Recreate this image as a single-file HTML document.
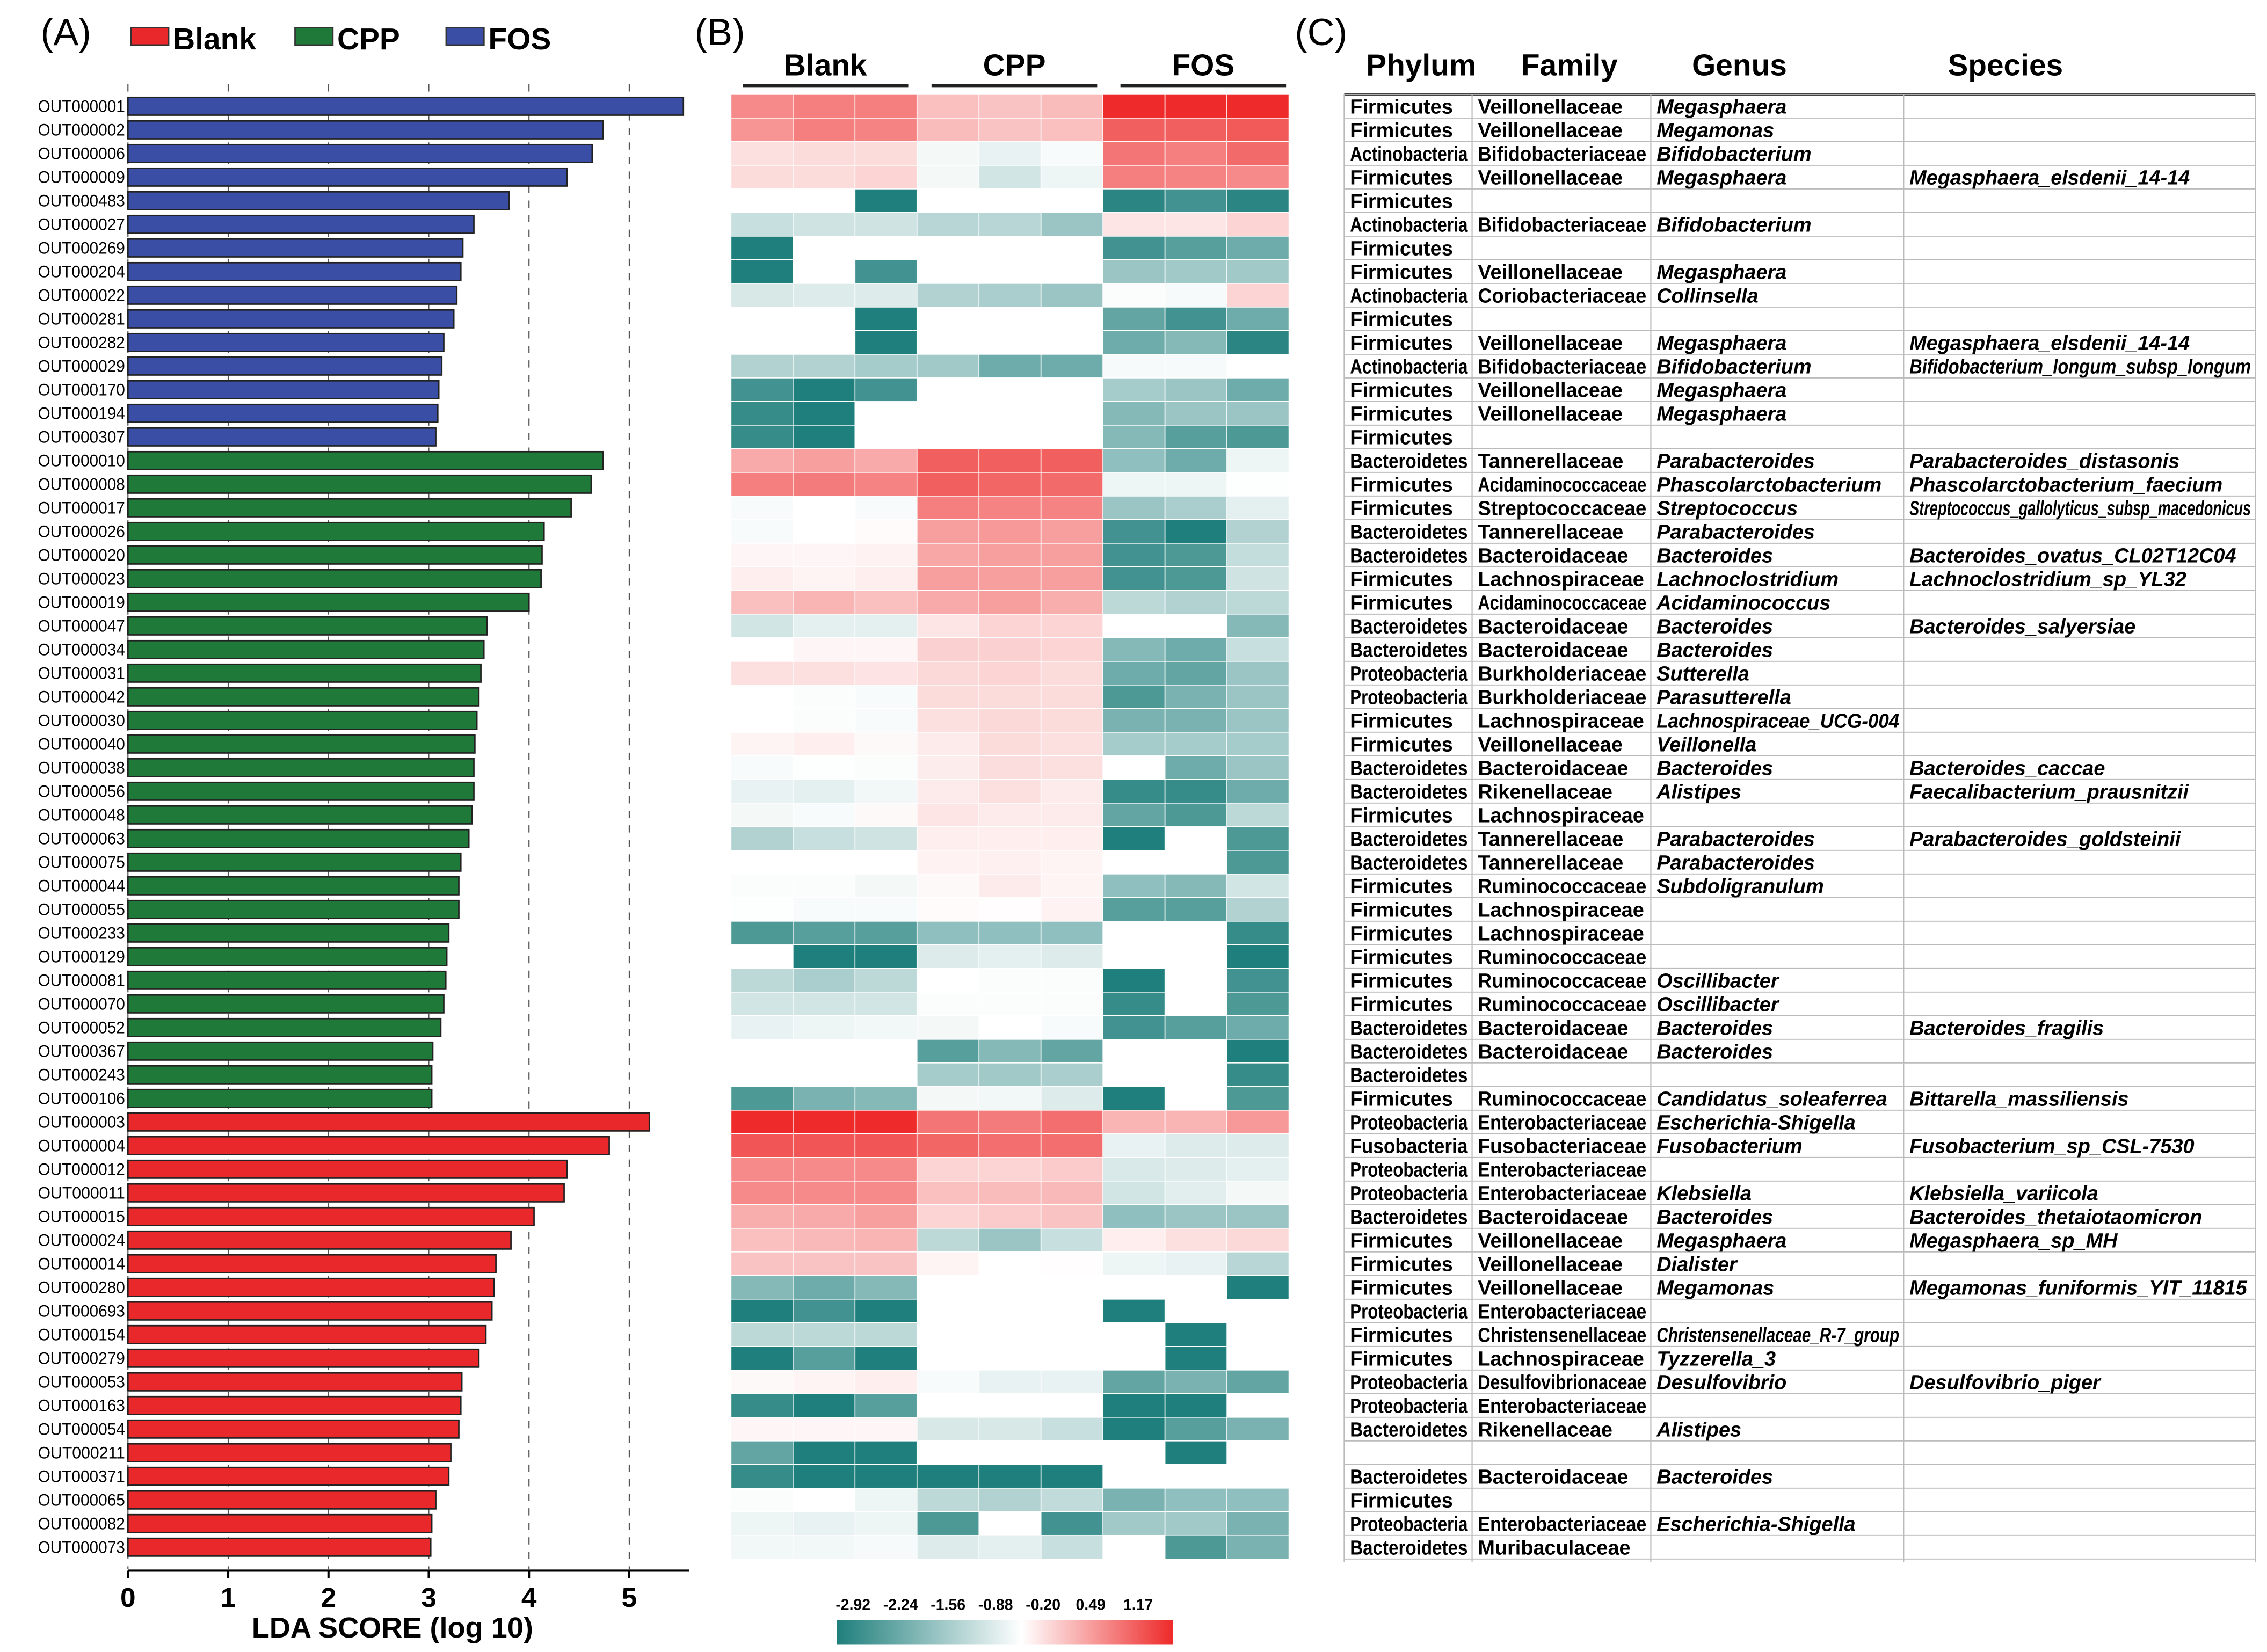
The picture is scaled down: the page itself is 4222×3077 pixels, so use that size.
<!DOCTYPE html>
<html><head><meta charset="utf-8"><style>
html,body{margin:0;padding:0;background:#fff}
svg{display:block}
text{font-family:"Liberation Sans",sans-serif}
</style></head><body>
<svg id="fig" width="4222" height="3077" viewBox="0 0 1560 1137" xmlns="http://www.w3.org/2000/svg">
<rect width="1560" height="1137" fill="#fff"/>
<g id="panelA"></g>
<g id="panelB"></g>
<g id="panelC"></g>
</svg>
<script>
const otuLabels=["OUT000001","OUT000002","OUT000006","OUT000009","OUT000483","OUT000027","OUT000269","OUT000204","OUT000022","OUT000281","OUT000282","OUT000029","OUT000170","OUT000194","OUT000307",
"OUT000010","OUT000008","OUT000017","OUT000026","OUT000020","OUT000023","OUT000019","OUT000047","OUT000034","OUT000031","OUT000042","OUT000030","OUT000040","OUT000038","OUT000056","OUT000048","OUT000063","OUT000075","OUT000044","OUT000055","OUT000233","OUT000129","OUT000081","OUT000070","OUT000052","OUT000367","OUT000243","OUT000106",
"OUT000003","OUT000004","OUT000012","OUT000011","OUT000015","OUT000024","OUT000014","OUT000280","OUT000693","OUT000154","OUT000279","OUT000053","OUT000163","OUT000054","OUT000211","OUT000371","OUT000065","OUT000082","OUT000073"];
const ldaScores=[5.54,4.74,4.63,4.38,3.8,3.45,3.34,3.32,3.28,3.25,3.15,3.13,3.1,3.09,3.07,
4.74,4.62,4.42,4.15,4.13,4.12,4.0,3.58,3.55,3.52,3.5,3.48,3.46,3.45,3.45,3.43,3.4,3.32,3.3,3.3,3.2,3.18,3.17,3.15,3.12,3.04,3.03,3.03,
5.2,4.8,4.38,4.35,4.05,3.82,3.67,3.65,3.63,3.57,3.5,3.33,3.32,3.3,3.22,3.2,3.07,3.03,3.02];
const groupOf=[...Array(15).fill("FOS"),...Array(28).fill("CPP"),...Array(19).fill("Blank")];
const xTicks=[0,1,2,3,4,5];
const heat=[
[.55,.6,.6,.3,.28,.32,1,1,1],[.5,.6,.58,.32,.28,.3,.75,.75,.78],[.15,.17,.17,-.05,-.1,-.03,.65,.6,.7],[.17,.17,.2,-.05,-.2,-.08,.6,.58,.55],
[0,0,-1,0,0,0,-.95,-.85,-.95],[-.25,-.22,-.22,-.32,-.32,-.45,.12,.12,.2],[-1,0,0,0,0,0,-.85,-.75,-.65],[-1,0,-.85,0,0,0,-.45,-.42,-.42],
[-.18,-.15,-.15,-.35,-.38,-.45,-.02,-.04,.2],[0,0,-1,0,0,0,-.7,-.85,-.65],[0,0,-1,0,0,0,-.65,-.55,-.95],[-.35,-.35,-.4,-.42,-.65,-.65,-.04,-.04,0],
[-.85,-1,-.85,0,0,0,-.4,-.45,-.65],[-.9,-1,0,0,0,0,-.55,-.45,-.45],[-.9,-1,0,0,0,0,-.55,-.75,-.8],[.4,.45,.4,.75,.75,.75,-.5,-.65,-.08],
[.6,.62,.58,.75,.72,.7,-.08,-.08,-.01],[-.03,0,-.03,.6,.58,.58,-.45,-.38,-.12],[-.03,0,.02,.45,.48,.45,-.85,-1,-.35],[.04,.04,.06,.42,.45,.45,-.85,-.8,-.27],
[.08,.05,.08,.45,.45,.45,-.85,-.8,-.22],[.3,.35,.3,.4,.45,.38,-.3,-.35,-.3],[-.2,-.12,-.12,.12,.2,.2,0,0,-.55],[0,.04,.04,.22,.22,.2,-.55,-.65,-.25],
[.15,.15,.13,.18,.2,.17,-.65,-.7,-.45],[0,-.02,-.03,.17,.17,.17,-.8,-.6,-.45],[0,-.02,-.03,.15,.18,.17,-.6,-.6,-.45],[.05,.08,.03,.1,.17,.15,-.4,-.4,-.4],
[-.03,-.01,-.02,.09,.16,.15,0,-.65,-.45],[-.1,-.12,-.06,.1,.15,.1,-.9,-.9,-.65],[-.05,-.03,.03,.12,.1,.1,-.7,-.8,-.3],[-.35,-.25,-.22,.08,.08,.08,-1,0,-.8],
[0,0,0,.06,.07,.05,0,0,-.8],[-.02,-.02,-.05,.03,.1,.05,-.5,-.55,-.2],[-.01,-.03,-.03,.02,.01,.06,-.75,-.75,-.35],[-.8,-.75,-.75,-.5,-.5,-.5,0,0,-.9],
[0,-1,-1,-.15,-.12,-.15,0,0,-1],[-.3,-.38,-.3,0,-.02,-.02,-1,0,-.85],[-.2,-.2,-.2,-.02,-.02,-.02,-.9,0,-.8],[-.1,-.08,-.06,-.05,0,-.03,-.85,-.75,-.65],
[0,0,0,-.75,-.55,-.7,0,0,-1],[0,0,0,-.4,-.42,-.38,0,0,-.9],[-.8,-.6,-.55,-.05,-.06,-.15,-1,0,-.8],[1,1,1,.65,.62,.68,.35,.35,.48],
[.8,.8,.8,.72,.68,.68,-.1,-.15,-.15],[.55,.55,.55,.2,.2,.25,-.17,-.15,-.12],[.55,.55,.55,.3,.32,.33,-.2,-.13,-.05],[.38,.4,.45,.2,.25,.28,-.5,-.45,-.45],
[.3,.33,.35,-.3,-.45,-.25,.08,.15,.18],[.28,.28,.28,.05,0,.01,-.08,-.1,-.32],[-.55,-.65,-.55,0,0,0,0,0,-1],[-1,-.85,-1,0,0,0,-1,0,0],
[-.3,-.3,-.3,0,0,0,0,-1,0],[-1,-.75,-1,0,0,0,0,-1,0],[.03,.05,.08,-.03,-.1,-.1,-.7,-.6,-.7],[-.9,-1,-.75,0,0,0,-1,-1,0],
[.04,.04,.04,-.18,-.18,-.25,-1,-.75,-.6],[-.7,-1,-1,0,0,0,0,-1,0],[-.9,-1,-1,-1,-1,-1,0,0,0],[-.02,0,-.08,-.3,-.35,-.28,-.6,-.5,-.5],
[-.08,-.1,-.08,-.8,0,-.85,-.42,-.42,-.6],[-.06,-.06,-.04,-.15,-.12,-.25,0,-.8,-.6]];
const heatGroups=["Blank","CPP","FOS"];
const cbTicks=["-2.92","-2.24","-1.56","-0.88","-0.20","0.49","1.17"];
const taxa=[
["Firmicutes","Veillonellaceae","Megasphaera",""],["Firmicutes","Veillonellaceae","Megamonas",""],["Actinobacteria","Bifidobacteriaceae","Bifidobacterium",""],
["Firmicutes","Veillonellaceae","Megasphaera","Megasphaera_elsdenii_14-14"],["Firmicutes","","",""],["Actinobacteria","Bifidobacteriaceae","Bifidobacterium",""],
["Firmicutes","","",""],["Firmicutes","Veillonellaceae","Megasphaera",""],["Actinobacteria","Coriobacteriaceae","Collinsella",""],["Firmicutes","","",""],
["Firmicutes","Veillonellaceae","Megasphaera","Megasphaera_elsdenii_14-14"],["Actinobacteria","Bifidobacteriaceae","Bifidobacterium","Bifidobacterium_longum_subsp_longum"],
["Firmicutes","Veillonellaceae","Megasphaera",""],["Firmicutes","Veillonellaceae","Megasphaera",""],["Firmicutes","","",""],
["Bacteroidetes","Tannerellaceae","Parabacteroides","Parabacteroides_distasonis"],["Firmicutes","Acidaminococcaceae","Phascolarctobacterium","Phascolarctobacterium_faecium"],
["Firmicutes","Streptococcaceae","Streptococcus","Streptococcus_gallolyticus_subsp_macedonicus"],["Bacteroidetes","Tannerellaceae","Parabacteroides",""],
["Bacteroidetes","Bacteroidaceae","Bacteroides","Bacteroides_ovatus_CL02T12C04"],["Firmicutes","Lachnospiraceae","Lachnoclostridium","Lachnoclostridium_sp_YL32"],
["Firmicutes","Acidaminococcaceae","Acidaminococcus",""],["Bacteroidetes","Bacteroidaceae","Bacteroides","Bacteroides_salyersiae"],["Bacteroidetes","Bacteroidaceae","Bacteroides",""],
["Proteobacteria","Burkholderiaceae","Sutterella",""],["Proteobacteria","Burkholderiaceae","Parasutterella",""],["Firmicutes","Lachnospiraceae","Lachnospiraceae_UCG-004",""],
["Firmicutes","Veillonellaceae","Veillonella",""],["Bacteroidetes","Bacteroidaceae","Bacteroides","Bacteroides_caccae"],["Bacteroidetes","Rikenellaceae","Alistipes","Faecalibacterium_prausnitzii"],
["Firmicutes","Lachnospiraceae","",""],["Bacteroidetes","Tannerellaceae","Parabacteroides","Parabacteroides_goldsteinii"],["Bacteroidetes","Tannerellaceae","Parabacteroides",""],
["Firmicutes","Ruminococcaceae","Subdoligranulum",""],["Firmicutes","Lachnospiraceae","",""],["Firmicutes","Lachnospiraceae","",""],["Firmicutes","Ruminococcaceae","",""],
["Firmicutes","Ruminococcaceae","Oscillibacter",""],["Firmicutes","Ruminococcaceae","Oscillibacter",""],["Bacteroidetes","Bacteroidaceae","Bacteroides","Bacteroides_fragilis"],
["Bacteroidetes","Bacteroidaceae","Bacteroides",""],["Bacteroidetes","","",""],["Firmicutes","Ruminococcaceae","Candidatus_soleaferrea","Bittarella_massiliensis"],
["Proteobacteria","Enterobacteriaceae","Escherichia-Shigella",""],["Fusobacteria","Fusobacteriaceae","Fusobacterium","Fusobacterium_sp_CSL-7530"],["Proteobacteria","Enterobacteriaceae","",""],
["Proteobacteria","Enterobacteriaceae","Klebsiella","Klebsiella_variicola"],["Bacteroidetes","Bacteroidaceae","Bacteroides","Bacteroides_thetaiotaomicron"],
["Firmicutes","Veillonellaceae","Megasphaera","Megasphaera_sp_MH"],["Firmicutes","Veillonellaceae","Dialister",""],["Firmicutes","Veillonellaceae","Megamonas","Megamonas_funiformis_YIT_11815"],
["Proteobacteria","Enterobacteriaceae","",""],["Firmicutes","Christensenellaceae","Christensenellaceae_R-7_group",""],["Firmicutes","Lachnospiraceae","Tyzzerella_3",""],
["Proteobacteria","Desulfovibrionaceae","Desulfovibrio","Desulfovibrio_piger"],["Proteobacteria","Enterobacteriaceae","",""],["Bacteroidetes","Rikenellaceae","Alistipes",""],
["","","",""],["Bacteroidetes","Bacteroidaceae","Bacteroides",""],["Firmicutes","","",""],["Proteobacteria","Enterobacteriaceae","Escherichia-Shigella",""],["Bacteroidetes","Muribaculaceae","",""]];

const NS="http://www.w3.org/2000/svg";
function mk(parent,tag,attrs,txt){const e=document.createElementNS(NS,tag);for(const k in attrs)e.setAttribute(k,attrs[k]);if(txt!==undefined)e.textContent=txt;parent.appendChild(e);return e;}
function fit(t,w){const l=t.getComputedTextLength();if(l>w){t.setAttribute('textLength',w);t.setAttribute('lengthAdjust','spacingAndGlyphs');}}

const rowTop=65, rowH=(1073-65)/62;
const rowY=i=>rowTop+i*rowH;

// ---------- Panel A ----------
const A=document.getElementById('panelA');
const x0=88, ux=69;
const xs=v=>x0+v*ux;
const colors={FOS:"#3a4ea5",CPP:"#1f7a3a",Blank:"#e8282a"};
let t=mk(A,'text',{x:28,y:31,'font-size':26},'(A)');


const legendItems=[["Blank",90],["CPP",203],["FOS",307]];
legendItems.forEach(([g,x])=>{
  const r=mk(A,'rect',{x:x,y:19,width:26,height:12,fill:colors[g],stroke:'#333','stroke-width':1});
  
  
  const tt=mk(A,'text',{x:x+29,y:34,'font-size':21,'font-weight':'bold'},g);
  
  
});
xTicks.forEach(v=>{
  const l=mk(A,'line',{x1:xs(v),x2:xs(v),y1:58,y2:1080,stroke:'#555','stroke-width':0.8,'stroke-dasharray':'5,5'});
  
  
});
ldaScores.forEach((v,i)=>{
  const y=rowY(i)+2;
  const r=mk(A,'rect',{x:x0,y:y,width:xs(v)-x0,height:rowH-4,fill:colors[groupOf[i]],stroke:'#222','stroke-width':1});
  
  
  const lb=mk(A,'text',{x:86,y:rowY(i)+rowH/2+4,'font-size':11.5,'text-anchor':'end'},otuLabels[i]);
  
  
  fit(lb,60);
});
const ax=mk(A,'line',{x1:x0,x2:xs(5.6),y1:1081,y2:1081,stroke:'#000','stroke-width':1.5});


xTicks.forEach(v=>{
  const tk=mk(A,'line',{x1:xs(v),x2:xs(v),y1:1081,y2:1086,stroke:'#000','stroke-width':1.5});
  
  
  const tl=mk(A,'text',{x:xs(v),y:1106,'font-size':19,'font-weight':'bold','text-anchor':'middle'},String(v));
  
  
});
t=mk(A,'text',{x:270,y:1127,'font-size':20,'font-weight':'bold','text-anchor':'middle'},'LDA SCORE (log 10)');



// ---------- Panel B ----------
const B=document.getElementById('panelB');
t=mk(B,'text',{x:478,y:31,'font-size':26},'(B)');


const hx0=503, cw=(887-503)/9;
const gc=[568,698,828];
heatGroups.forEach((g,k)=>{
  const tt=mk(B,'text',{x:gc[k],y:52,'font-size':21,'font-weight':'bold','text-anchor':'middle'},g);
  
  
  const l=mk(B,'line',{x1:gc[k]-57,x2:gc[k]+57,y1:59,y2:59,stroke:'#222','stroke-width':2});
  
  
});
const teal=[31,127,124], red=[238,42,42];
function col(v){
  if(v===0) return '#ffffff';
  const c=v<0?teal:red, a=Math.min(1,Math.abs(v));
  const m=(k)=>Math.round(255+(c[k]-255)*a);
  return `rgb(${m(0)},${m(1)},${m(2)})`;
}
heat.forEach((row,i)=>row.forEach((v,j)=>{
  const r=mk(B,'rect',{x:hx0+j*cw,y:rowY(i),width:cw,height:rowH,fill:col(v),stroke:v===0?'none':'#fff','stroke-width':0.6});
  
  
}));
const defs=mk(document.getElementById('fig'),'defs',{});
const gr=mk(defs,'linearGradient',{id:'cbg',x1:0,x2:1,y1:0,y2:0});
mk(gr,'stop',{offset:'0',"stop-color":'#1f7f7c'});
mk(gr,'stop',{offset:'0.55',"stop-color":'#ffffff'});
mk(gr,'stop',{offset:'1',"stop-color":'#ee2a2a'});
const cb=mk(B,'rect',{x:576,y:1115,width:231,height:17,fill:'url(#cbg)'});


cbTicks.forEach((s,k)=>{
  const tt=mk(B,'text',{x:587+k*32.7,y:1108,'font-size':10.5,'font-weight':'bold','text-anchor':'middle'},s);
  
  
});

// ---------- Panel C ----------
const C=document.getElementById('panelC');
t=mk(C,'text',{x:891,y:31,'font-size':26},'(C)');


const heads=[["Phylum",978],["Family",1080],["Genus",1197],["Species",1380]];
heads.forEach(([h,x])=>{
  const tt=mk(C,'text',{x:x,y:52,'font-size':21,'font-weight':'bold','text-anchor':'middle'},h);
  
  
});
const tx=[925,1013,1136,1310,1552];
let l=mk(C,'line',{x1:925,x2:1552,y1:65,y2:65,stroke:'#444','stroke-width':2});


for(let i=0;i<=62;i++){
  const hl=mk(C,'line',{x1:925,x2:1552,y1:rowY(i),y2:rowY(i),stroke:'#bbb','stroke-width':0.7});
  
  
}
tx.forEach(x=>{
  const vl=mk(C,'line',{x1:x,x2:x,y1:65,y2:1075,stroke:'#bbb','stroke-width':0.8});
  
  
});
taxa.forEach((row,i)=>{
  row.forEach((s,k)=>{
    if(!s) return;
    const tt=mk(C,'text',{x:tx[k]+4,y:rowY(i)+rowH/2+5,'font-size':14,'font-weight':'bold','font-style':k>=2?'italic':'normal'},s);
    
    
    fit(tt,tx[k+1]-tx[k]-7);
  });
});
</script>
</body></html>
